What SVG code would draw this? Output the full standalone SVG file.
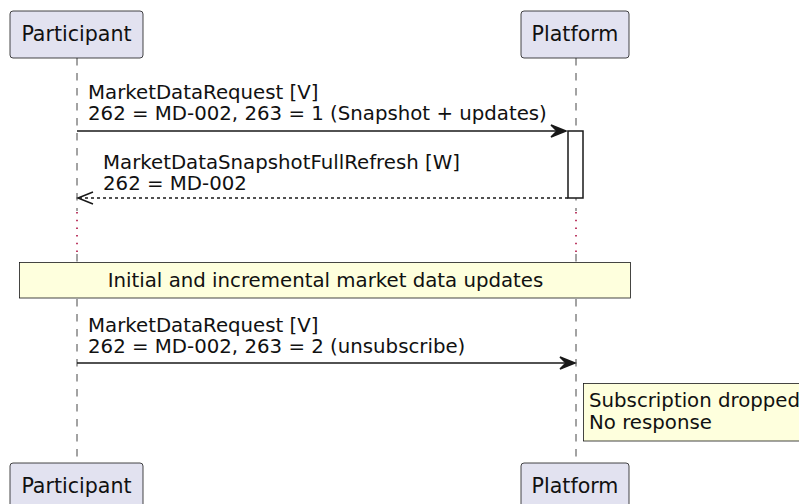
<svg xmlns="http://www.w3.org/2000/svg" width="799" height="504" viewBox="0 0 799 504">
<style>
.part{fill:#E2E2F0;stroke:#181818;stroke-width:0.8}
.ptxt{font-family:"DejaVu Sans",sans-serif;font-size:20.6px;fill:#111;text-anchor:middle}
.mtxt{font-family:"DejaVu Sans",sans-serif;font-size:19.75px;fill:#111}
.life{stroke:#181818;stroke-width:0.8;stroke-dasharray:7.5,7.5;fill:none}
.delay{stroke:#A80036;stroke-width:1.5;stroke-dasharray:1.5,6.2;fill:none}
.msg{stroke:#181818;stroke-width:1.5;fill:none}
.dash{stroke:#181818;stroke-width:1.5;stroke-dasharray:3,3;fill:none}
.head{fill:#181818;stroke:#181818;stroke-width:1.5}
.note{fill:#FEFFDD;stroke:#181818;stroke-width:0.8}
.act{fill:#FFFFFF;stroke:#181818;stroke-width:1.5}
</style>
<rect width="799" height="504" fill="#FFFFFF"/>
<g id="lifelines">
<line class="life" x1="77" y1="58" x2="77" y2="211"/>
<line class="delay" x1="77" y1="212" x2="77" y2="253"/>
<line class="life" x1="77" y1="254" x2="77" y2="463"/>
<line class="life" x1="576" y1="58" x2="576" y2="211"/>
<line class="delay" x1="576" y1="212" x2="576" y2="253"/>
<line class="life" x1="576" y1="254" x2="576" y2="463"/>
</g>
<g id="participant-top">
<rect class="part" x="10" y="11" width="133" height="47" rx="3"/>
<text class="ptxt" x="76.5" y="41">Participant</text>
</g>
<g id="platform-top">
<rect class="part" x="521" y="11" width="108" height="47" rx="3"/>
<text class="ptxt" x="575" y="41">Platform</text>
</g>
<g id="participant-bottom">
<rect class="part" x="10" y="463" width="133" height="47" rx="3"/>
<text class="ptxt" x="76.5" y="493">Participant</text>
</g>
<g id="platform-bottom">
<rect class="part" x="521" y="463" width="108" height="47" rx="3"/>
<text class="ptxt" x="575" y="493">Platform</text>
</g>
<g id="activation">
<rect class="act" x="568" y="131" width="15" height="67"/>
</g>
<g id="connectors">
<g id="msg1">
<line class="msg" x1="77" y1="131" x2="562" y2="131"/>
<polygon class="head" points="551,125 566,131 551,137 557,131"/>
<text class="mtxt" x="88" y="99">MarketDataRequest [V]</text>
<text class="mtxt" x="88" y="120">262 = MD-002, 263 = 1 (Snapshot + updates)</text>
</g>
<g id="msg2">
<line class="dash" x1="568" y1="198" x2="79" y2="198"/>
<polyline class="msg" points="93,192 78,198 93,204"/>
<text class="mtxt" x="103" y="169">MarketDataSnapshotFullRefresh [W]</text>
<text class="mtxt" x="103" y="190">262 = MD-002</text>
</g>
<g id="msg3">
<line class="msg" x1="77" y1="363" x2="571" y2="363"/>
<polygon class="head" points="560,357 575,363 560,369 566,363"/>
<text class="mtxt" x="88" y="332">MarketDataRequest [V]</text>
<text class="mtxt" x="88" y="353">262 = MD-002, 263 = 2 (unsubscribe)</text>
</g>
</g>
<g id="note-updates">
<rect class="note" x="19.5" y="262.5" width="611" height="35.5"/>
<text class="mtxt" x="325.5" y="287" text-anchor="middle">Initial and incremental market data updates</text>
</g>
<g id="note-dropped">
<rect class="note" x="583.5" y="383.5" width="230" height="57.5"/>
<text class="mtxt" x="589" y="407">Subscription dropped</text>
<text class="mtxt" x="589" y="429">No response</text>
</g>
</svg>
